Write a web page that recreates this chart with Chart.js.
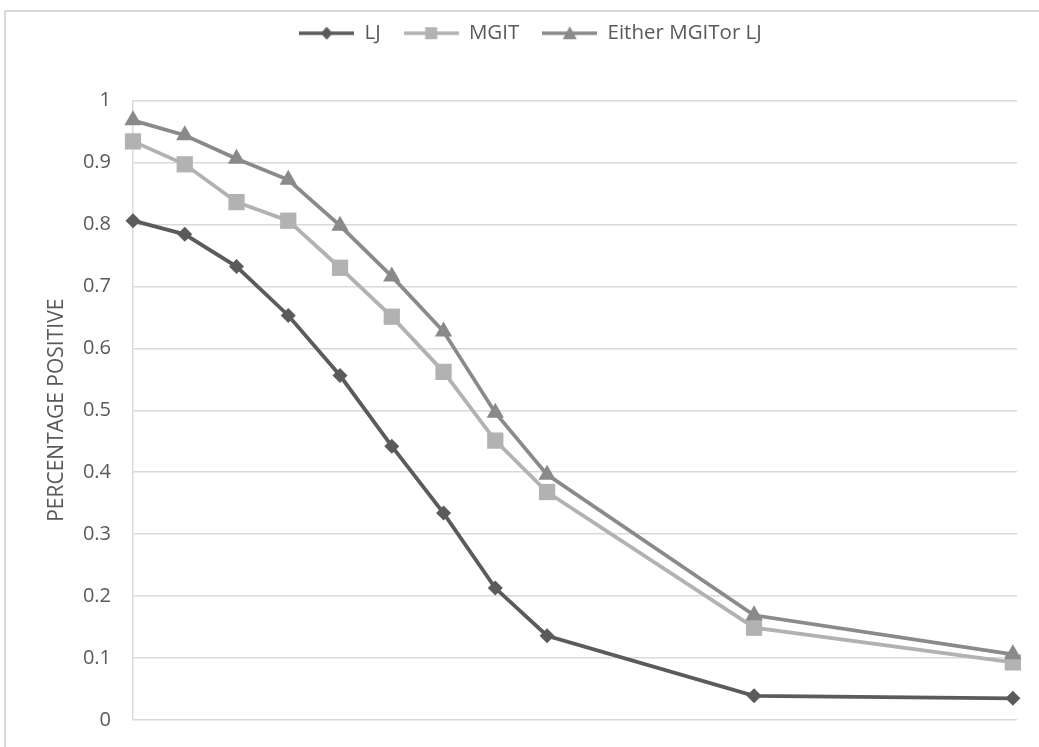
<!DOCTYPE html>
<html>
<head>
<meta charset="utf-8">
<script src="https://cdn.jsdelivr.net/npm/chart.js@4.4.1/dist/chart.umd.min.js"></script>
<style>
  html, body { margin: 0; padding: 0; background: #ffffff; }
  #wrap { position: relative; width: 1039px; height: 747px; }
</style>
</head>
<body>
<div id="wrap"><canvas id="lineChart"></canvas></div>
<script>
// Chart data
const xPositions = [1, 2, 3, 4, 5, 6, 7, 8, 9, 13, 18];
const seriesNames = ['LJ', 'MGIT', 'Either MGITor LJ'];
const ljValues = [0.806, 0.784, 0.732, 0.653, 0.556, 0.442, 0.334, 0.213, 0.136, 0.039, 0.035];
const mgitValues = [0.934, 0.897, 0.836, 0.806, 0.730, 0.651, 0.562, 0.451, 0.368, 0.149, 0.093];
const eitherValues = [0.968, 0.944, 0.906, 0.872, 0.798, 0.716, 0.627, 0.496, 0.396, 0.169, 0.106];
const yTickValues = [0, 0.1, 0.2, 0.3, 0.4, 0.5, 0.6, 0.7, 0.8, 0.9, 1];

const FONT = "'Open Sans', 'Noto Sans', sans-serif";
const TEXT_COLOR = '#595959';
const GRID_COLOR = '#d9d9d9';
const LEGEND_GAP = 47; // extra space under the legend

const seriesStyles = [
    { color: '#5b5b5b', marker: 'rectRot', radius: 7.5 },
    { color: '#b2b2b2', marker: 'rect', radius: 11.5 },
    { color: '#8a8a8a', marker: 'triangle', radius: 10 }
];

function toPoints(values) {
    return values.map((v, i) => ({ x: xPositions[i], y: v }));
}

// small picture of line + marker for the legend
function makeLegendIcon(style) {
    const c = document.createElement('canvas');
    c.width = 55;
    c.height = 18;
    const g = c.getContext('2d');
    g.strokeStyle = style.color;
    g.fillStyle = style.color;
    g.lineWidth = 3.5;
    g.beginPath();
    g.moveTo(0, 9);
    g.lineTo(55, 9);
    g.stroke();
    g.beginPath();
    if (style.marker === 'rectRot') {
        g.moveTo(27.5, 2.5); g.lineTo(33.5, 9); g.lineTo(27.5, 15.5); g.lineTo(21.5, 9);
    } else if (style.marker === 'rect') {
        g.rect(21.5, 3, 12, 12);
    } else {
        g.moveTo(27.5, 2); g.lineTo(34.5, 15); g.lineTo(20.5, 15);
    }
    g.closePath();
    g.fill();
    return c;
}

const legendIcons = seriesStyles.map(makeLegendIcon);

const outerBorder = {
    id: 'outerBorder',
    beforeInit(chart) {
        // leave room between legend and plot
        const legend = chart.legend;
        if (legend) {
            const fit = legend.fit;
            legend.fit = function() {
                fit.call(this);
                this.height += LEGEND_GAP;
            };
        }
    },
    beforeDraw(chart) {
        const ctx = chart.ctx;
        ctx.save();
        ctx.fillStyle = '#ffffff';
        ctx.fillRect(0, 0, chart.width, chart.height);
        ctx.strokeStyle = GRID_COLOR;
        ctx.lineWidth = 2;
        ctx.strokeRect(5, 11, chart.width + 20, chart.height + 20);
        ctx.restore();
    }
};

function buildDataset(name, values, idx) {
    const s = seriesStyles[idx];
    return {
        label: name,
        data: toPoints(values),
        borderColor: s.color,
        backgroundColor: s.color,
        borderWidth: 3.8,
        pointStyle: s.marker,
        pointRadius: s.radius,
        pointHoverRadius: s.radius,
        pointBorderWidth: 0,
        pointBackgroundColor: s.color,
        tension: 0,
        clip: false,
        order: 2 - idx
    };
}

const ctx = document.getElementById('lineChart').getContext('2d');
const lineChart = new Chart(ctx, {
    type: 'line',
    data: {
        datasets: [
            buildDataset(seriesNames[0], ljValues, 0),
            buildDataset(seriesNames[1], mgitValues, 1),
            buildDataset(seriesNames[2], eitherValues, 2)
        ]
    },
    options: {
        responsive: true,
        maintainAspectRatio: false,
        animation: false,
        layout: {
            padding: { left: 44, right: 22, top: 0, bottom: 27 }
        },
        plugins: {
            tooltip: { enabled: false },
            legend: {
                position: 'top',
                labels: {
                    usePointStyle: true,
                    pointStyleWidth: 55,
                    padding: 23,
                    color: TEXT_COLOR,
                    font: { family: FONT, size: 20.5 },
                    sort: (a, b) => a.datasetIndex - b.datasetIndex,
                    generateLabels(chart) {
                        return chart.data.datasets.map((ds, i) => ({
                            text: ds.label,
                            fillStyle: ds.borderColor,
                            strokeStyle: ds.borderColor,
                            fontColor: TEXT_COLOR,
                            lineWidth: 0,
                            pointStyle: legendIcons[i],
                            hidden: false,
                            datasetIndex: i
                        }));
                    }
                }
            }
        },
        scales: {
            x: {
                type: 'linear',
                display: false,
                min: 1,
                max: 18.08
            },
            y: {
                min: 0,
                max: 1,
                afterFit(scale) {
                    scale.width = 89;
                    scale.paddingTop = 0;
                    scale.paddingBottom = 0;
                },
                afterBuildTicks(scale) {
                    scale.ticks = yTickValues.map(v => ({ value: v }));
                },
                border: { display: true, color: GRID_COLOR, width: 1.5 },
                grid: { color: GRID_COLOR, lineWidth: 1.5, drawTicks: false },
                ticks: {
                    padding: 22,
                    color: TEXT_COLOR,
                    font: { family: FONT, size: 20 },
                    callback: v => String(Math.round(v * 10) / 10)
                },
                title: {
                    display: true,
                    text: 'PERCENTAGE POSITIVE',
                    color: TEXT_COLOR,
                    font: { family: FONT, size: 21 },
                    padding: 0
                }
            }
        }
    },
    plugins: [outerBorder]
});
</script>
</body>
</html>
